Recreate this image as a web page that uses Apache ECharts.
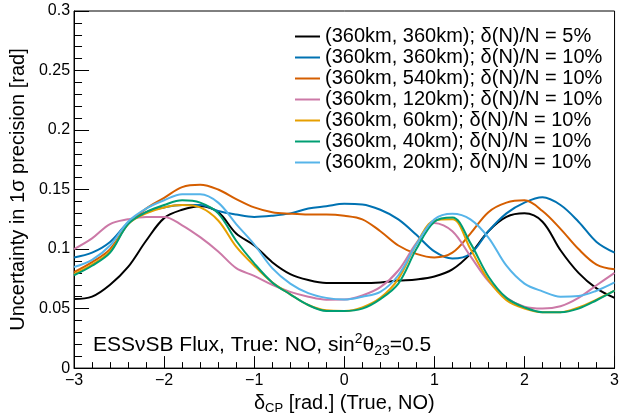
<!DOCTYPE html>
<html><head><meta charset="utf-8">
<script src="https://cdn.jsdelivr.net/npm/echarts@6/dist/echarts.min.js"></script>
<style>html,body{margin:0;padding:0;background:#fff}#c{width:622px;height:420px}</style>
</head><body><div id="c"></div>
<script>
const deltaCP = [-3, -2.8, -2.6, -2.4, -2.2, -2.0, -1.8, -1.6, -1.4, -1.2, -1.0, -0.8, -0.6, -0.4, -0.2, 0, 0.2, 0.4, 0.6, 0.8, 1.0, 1.2, 1.4, 1.6, 1.8, 2.0, 2.2, 2.4, 2.6, 2.8, 3.0];

const seriesNames = [
  '(360km, 360km); δ(N)/N = 5%',
  '(360km, 360km); δ(N)/N = 10%',
  '(360km, 540km); δ(N)/N = 10%',
  '(360km, 120km); δ(N)/N = 10%',
  '(360km, 60km); δ(N)/N = 10%',
  '(360km, 40km); δ(N)/N = 10%',
  '(360km, 20km); δ(N)/N = 10%'
];
const seriesColors = ['#000000', '#0072B2', '#D55E00', '#CC79A7', '#E69F00', '#009E73', '#56B4E9'];

const k360_360_5 = [0.058, 0.060, 0.070, 0.085, 0.107, 0.126, 0.133, 0.136, 0.131, 0.113, 0.103, 0.089, 0.079, 0.074, 0.0715, 0.0715, 0.0715, 0.072, 0.0735, 0.0745, 0.077, 0.083, 0.096, 0.115, 0.127, 0.130, 0.123, 0.099, 0.080, 0.067, 0.059];
const k360_360_10 = [0.093, 0.097, 0.106, 0.122, 0.131, 0.135, 0.137, 0.137, 0.132, 0.129, 0.127, 0.128, 0.130, 0.134, 0.136, 0.138, 0.1375, 0.133, 0.125, 0.112, 0.098, 0.092, 0.096, 0.115, 0.130, 0.139, 0.1435, 0.137, 0.123, 0.106, 0.097];
const k360_540_10 = [0.0806, 0.089, 0.100, 0.121, 0.134, 0.143, 0.152, 0.154, 0.150, 0.142, 0.135, 0.131, 0.1297, 0.129, 0.129, 0.128, 0.125, 0.115, 0.103, 0.096, 0.093, 0.097, 0.113, 0.131, 0.139, 0.141, 0.132, 0.117, 0.100, 0.087, 0.083];
const k360_120_10 = [0.100, 0.109, 0.121, 0.125, 0.127, 0.127, 0.120, 0.110, 0.098, 0.084, 0.0775, 0.070, 0.064, 0.060, 0.0575, 0.0576, 0.061, 0.068, 0.082, 0.105, 0.122, 0.115, 0.094, 0.073, 0.059, 0.0515, 0.050, 0.052, 0.059, 0.0696, 0.080];
const k360_60_10 = [0.079, 0.087, 0.098, 0.121, 0.130, 0.135, 0.137, 0.135, 0.124, 0.102, 0.086, 0.072, 0.062, 0.053, 0.0485, 0.048, 0.051, 0.059, 0.075, 0.104, 0.124, 0.125, 0.100, 0.074, 0.057, 0.050, 0.047, 0.047, 0.051, 0.0576, 0.065];
const k360_40_10 = [0.078, 0.086, 0.097, 0.121, 0.131, 0.137, 0.141, 0.139, 0.130, 0.107, 0.088, 0.072, 0.062, 0.053, 0.048, 0.048, 0.050, 0.058, 0.071, 0.100, 0.123, 0.1265, 0.105, 0.077, 0.059, 0.051, 0.047, 0.047, 0.050, 0.057, 0.065];
const k360_20_10 = [0.085, 0.091, 0.103, 0.123, 0.134, 0.141, 0.146, 0.146, 0.139, 0.121, 0.104, 0.084, 0.071, 0.063, 0.059, 0.0576, 0.060, 0.064, 0.078, 0.104, 0.125, 0.1297, 0.125, 0.1097, 0.086, 0.071, 0.0645, 0.060, 0.0605, 0.065, 0.072];

const seriesValues = [k360_360_5, k360_360_10, k360_540_10, k360_120_10, k360_60_10, k360_40_10, k360_20_10];

const xTickLabels = ['\u22123', '\u22122', '\u22121', '0', '1', '2', '3'];
const yTickLabels = ['0', '0.05', '0.1', '0.15', '0.2', '0.25', '0.3'];

const FONT = '"Liberation Sans", Arial, Helvetica, sans-serif';

const chart = echarts.init(document.getElementById('c'), null, {renderer: 'canvas'});
chart.setOption({
  animation: false,
  backgroundColor: '#fff',
  textStyle: {fontFamily: FONT, color: '#000'},
  grid: {left: 72, right: 4, top: 11, bottom: 48, show: true, borderColor: '#000', borderWidth: 1, backgroundColor: 'transparent'},
  xAxis: {
    type: 'value', min: -3, max: 3, interval: 1,
    axisLine: {show: true, onZero: false, lineStyle: {color: '#000', width: 1}},
    axisTick: {show: true, inside: true, length: 12, lineStyle: {color: '#000'}},
    minorTick: {show: true, splitNumber: 5, length: 6, lineStyle: {color: '#000'}},
    splitLine: {show: false},
    axisLabel: {fontSize: 16, color: '#000', margin: 4, fontFamily: FONT,
      formatter: v => xTickLabels[Math.round(v + 3)]},
    name: '{a|δ}{s|CP}{a| [rad.] (True, NO)}',
    nameLocation: 'middle', nameGap: 22,
    nameTextStyle: {
      rich: {
        a: {fontSize: 20, lineHeight: 24, color: '#000', fontFamily: FONT},
        s: {fontSize: 13, lineHeight: 13, verticalAlign: 'bottom', color: '#000', fontFamily: FONT}
      }
    }
  },
  yAxis: {
    type: 'value', min: 0, max: 0.3, interval: 0.05,
    axisLine: {show: true, onZero: false, lineStyle: {color: '#000', width: 1}},
    axisTick: {show: true, inside: true, length: 15, lineStyle: {color: '#000'}},
    minorTick: {show: true, splitNumber: 5, length: 8, lineStyle: {color: '#000'}},
    splitLine: {show: false},
    axisLabel: {fontSize: 16, color: '#000', margin: 4, fontFamily: FONT,
      formatter: v => yTickLabels[Math.round(v / 0.05)]},
    name: 'Uncertainty in 1σ precision [rad]',
    nameLocation: 'middle', nameRotate: 90, nameGap: 44,
    nameTextStyle: {fontSize: 20, color: '#000', fontFamily: FONT}
  },
  legend: {
    show: true, orient: 'vertical', left: 290, top: 21,
    icon: 'rect', itemWidth: 25, itemHeight: 2, itemGap: 0, itemTextGap: 5,
    textStyle: {fontSize: 20, lineHeight: 21, color: '#000', fontFamily: FONT},
    data: seriesNames
  },
  graphic: [{
    type: 'text', left: 93, top: 332, silent: true,
    style: {
      text: '{a|ESSνSB Flux, True: NO, sin}{p|2}{a|θ}{b|23}{a|=0.5}',
      rich: {
        a: {fontSize: 21, lineHeight: 26, fill: '#000', fontFamily: FONT},
        p: {fontSize: 14, lineHeight: 14, verticalAlign: 'top', fill: '#000', fontFamily: FONT},
        b: {fontSize: 14, lineHeight: 14, verticalAlign: 'bottom', fill: '#000', fontFamily: FONT}
      }
    }
  }],
  series: seriesNames.map((name, i) => ({
    name: name, type: 'line', showSymbol: false, smooth: 0.35,
    color: seriesColors[i],
    lineStyle: {color: seriesColors[i], width: 2},
    data: deltaCP.map((x, j) => [x, seriesValues[i][j]])
  }))
});
</script></body></html>
